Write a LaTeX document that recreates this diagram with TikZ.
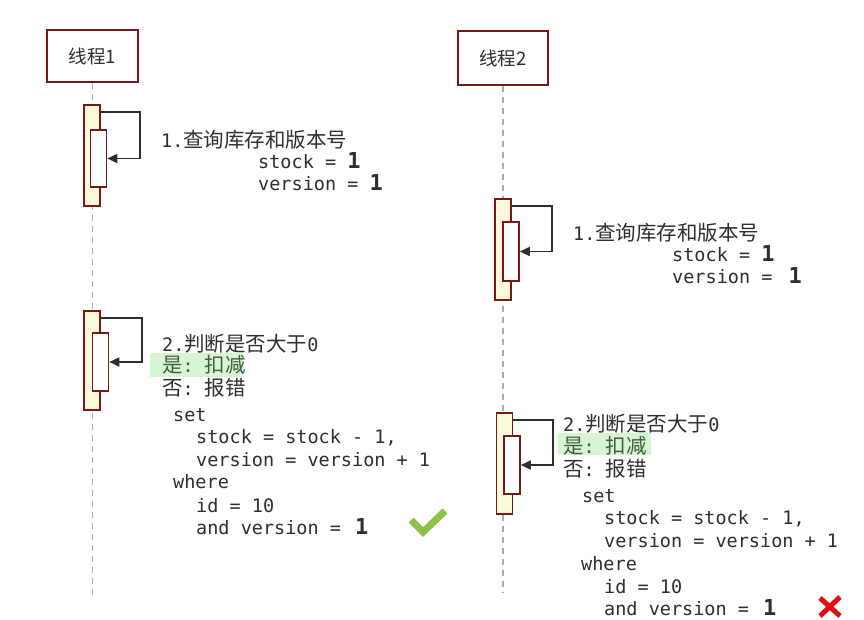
\documentclass[tikz,border=0pt]{standalone}
\usepackage{fontspec}
\setmonofont{DejaVu Sans Mono}
\newfontfamily\cjk{Noto Sans CJK SC}
\usepackage{xcolor}
\usepackage{tikz}
\usetikzlibrary{arrows.meta}
\definecolor{frame}{HTML}{7A1818}
\definecolor{actfill}{HTML}{FFF9DC}
\definecolor{ink}{HTML}{2E2E2E}
\definecolor{lifegray}{HTML}{ABABAB}
\definecolor{okgreen}{HTML}{8BC34A}
\definecolor{hilite}{HTML}{D6F5D3}
\definecolor{yesink}{HTML}{3B5E3B}
\definecolor{bad}{HTML}{E01010}
\newcommand{\zh}[1]{{\cjk\fontsize{20.5}{24}\selectfont #1}}
\newcommand{\one}{{\fontsize{22}{24}\selectfont\bfseries 1}}
\tikzset{
  thread/.style={draw=frame, line width=1.7pt, fill=white, inner sep=0pt, text=ink, font=\cjk\fontsize{18.5}{20}\selectfont},
  act/.style={draw=frame, line width=1.6pt, fill=actfill, inner sep=0pt, minimum width=16pt},
  actin/.style={draw=frame, line width=1.6pt, fill=white, inner sep=0pt, minimum width=16pt},
  lifeline/.style={draw=lifegray, line width=1.3pt, dash pattern=on 6pt off 5pt},
  self/.style={draw=ink, line width=1.7pt, -{Triangle[length=10pt,width=9pt]}},
  code/.style={anchor=base west, inner sep=0pt, text=ink, font=\ttfamily\fontsize{18.5}{22}\selectfont},
}

\begin{document}
\begin{tikzpicture}[x=1pt, y=-1pt]
  \useasboundingbox (0,0) rectangle (864,619);

  % threads and lifelines
  \node[thread, minimum width=91pt, minimum height=52pt] (th1) at (92.5,56) {线程1};
  \node[thread, minimum width=90pt, minimum height=54pt] (th2) at (503,58) {线程2};
  \coordinate (end1) at (92.5,596);
  \coordinate (end2) at (503,592);
  \draw[lifeline] (th1) -- (end1);
  \draw[lifeline] (th2) -- (end2);

  % thread 1: query
  \node[act, minimum height=101pt] (q1) at (92,155.5) {};
  \node[actin, minimum height=57pt] (q1in) at (98.5,158.5) {};
  \draw[self] ([yshift=-8pt]q1.north east) -- ++(39,0) |- (q1in.east);
  \node[code] (q1t) at (161,147) {1.\zh{查询库存和版本号}};
  \node[code] (q1s) at (258,168) {stock = \one};
  \node[code] (q1v) at (258,190) {version = \one};

  % thread 1: check and update
  \node[act, minimum height=99pt] (d1) at (92,360.5) {};
  \node[actin, minimum height=58pt] (d1in) at (100.5,362) {};
  \draw[self] ([yshift=-8pt]d1.north east) -- ++(41,0) |- (d1in.east);
  \fill[hilite] (150,353) rectangle (243,377);
  \node[code] (d1t) at (162,351) {2.\zh{判断是否大于}0};
  \node[code, text=yesink] (d1y) at (162,372) {\zh{是}: \zh{扣减}};
  \node[code] (d1n) at (162,395) {\zh{否}: \zh{报错}};
  \node[code] (d1a) at (173,421) {set};
  \node[code] (d1b) at (196,443) {stock = stock - 1,};
  \node[code] (d1c) at (196,466) {version = version + 1};
  \node[code] (d1d) at (173,488) {where};
  \node[code] (d1e) at (196,512) {id = 10};
  \node[code] (d1f) at (196,534) {and version = \hspace{3pt}\one};
  \draw[okgreen, line width=7pt] (411,520) -- (423,532) -- (445,511);

  % thread 2: query
  \node[act, minimum height=101pt] (q2) at (503,249.5) {};
  \node[actin, minimum height=59pt] (q2in) at (511,251.5) {};
  \draw[self] ([yshift=-8pt]q2.north east) -- ++(40,0) |- (q2in.east);
  \node[code] (q2t) at (573,240) {1.\zh{查询库存和版本号}};
  \node[code] (q2s) at (672,261) {stock = \one};
  \node[code] (q2v) at (672,283) {version = \hspace{5pt}\one};

  % thread 2: check and update
  \node[act, minimum height=101pt] (d2) at (504.5,463.5) {};
  \node[actin, minimum height=58pt] (d2in) at (512,465) {};
  \draw[self] ([yshift=-8pt]d2.north east) -- ++(40,0) |- (d2in.east);
  \fill[hilite] (558,433) rectangle (651,455);
  \node[code] (d2t) at (563,431) {2.\zh{判断是否大于}0};
  \node[code, text=yesink] (d2y) at (563,453) {\zh{是}: \zh{扣减}};
  \node[code] (d2n) at (563,476) {\zh{否}: \zh{报错}};
  \node[code] (d2a) at (582,502) {set};
  \node[code] (d2b) at (604,524) {stock = stock - 1,};
  \node[code] (d2c) at (604,547) {version = version + 1};
  \node[code] (d2d) at (581,570) {where};
  \node[code] (d2e) at (604,593) {id = 10};
  \node[code] (d2f) at (604,615) {and version = \hspace{3pt}\one};
  \draw[bad, line width=5pt] (820,598) -- (840,616) (840,597) -- (820,616);
\end{tikzpicture}
\end{document}
